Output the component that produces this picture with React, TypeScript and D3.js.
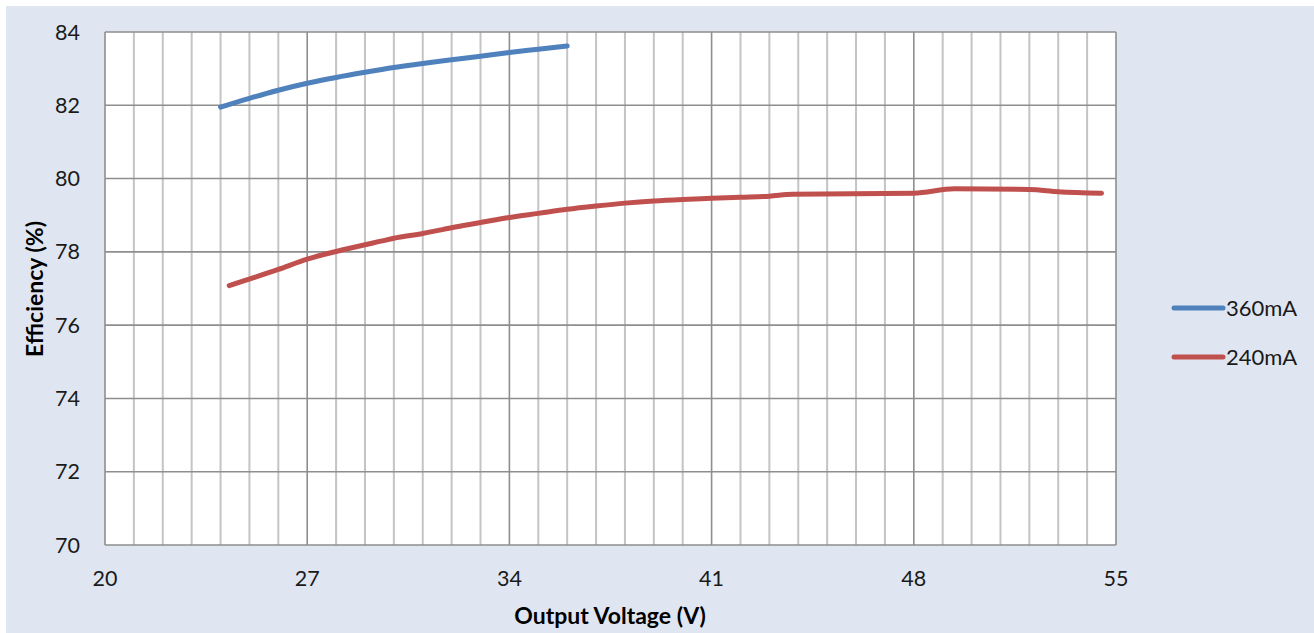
import React from "react";
import * as d3 from "d3";

const xTicks = [20, 27, 34, 41, 48, 55];
const yTicks = [70, 72, 74, 76, 78, 80, 82, 84];
const seriesNames = ["360mA", "240mA"];

const v360 = [24, 25, 26, 27, 28, 29, 30, 31, 32, 33, 34, 35, 36];
const e360 = [81.95, 82.19, 82.41, 82.6, 82.76, 82.9, 83.03, 83.14, 83.24, 83.34, 83.44, 83.53, 83.62];

const v240 = [24.3, 26, 27, 28, 29.6, 30, 31, 32, 33, 34, 35, 36, 37, 38, 39, 40, 41, 42, 43, 43.8, 48, 49.4, 52, 53, 54.5];
const e240 = [77.08, 77.52, 77.8, 78.01, 78.3, 78.37, 78.5, 78.66, 78.8, 78.94, 79.05, 79.16, 79.25, 79.33, 79.39, 79.43, 79.46, 79.49, 79.52, 79.57, 79.6, 79.72, 79.7, 79.64, 79.6];

const colors = ["#4f81bd", "#c0504d"];

export default function App() {
  const W = 1314, H = 633;
  const L = 105, R = 1116, T = 32, B = 545;
  const x = d3.scaleLinear().domain([20, 55]).range([L, R]);
  const y = d3.scaleLinear().domain([70, 84]).range([B, T]);
  const minor = d3.range(21, 55).filter((v) => (v - 20) % 7 !== 0);
  const line = d3
    .line<number>()
    .x((d: any) => x(d[0]))
    .y((d: any) => y(d[1]))
    .curve(d3.curveMonotoneX);
  const mk = (xs: number[], ys: number[]) => line(xs.map((v, i) => [v, ys[i]] as any) as any) || "";
  const paths = [mk(v360, e360), mk(v240, e240)];
  const font = "Lato, 'Open Sans', sans-serif";
  return (
    <svg width={W} height={H} style={{ position: "absolute", left: 0, top: 0 }}>
      <rect x={0} y={0} width={W} height={H} fill="#ffffff" />
      <rect x={6} y={6} width={W - 6} height={H - 6} fill="#dfe6f1" />
      <rect x={L} y={T} width={R - L} height={B - T} fill="#ffffff" />
      {minor.map((v) => (
        <line key={"m" + v} x1={x(v)} x2={x(v)} y1={T} y2={B} stroke="#c4c4c4" strokeWidth={2} />
      ))}
      {yTicks.map((v) => (
        <line key={"y" + v} x1={L} x2={R} y1={y(v)} y2={y(v)} stroke="#8e8e8e" strokeWidth={1.6} />
      ))}
      {xTicks.map((v) => (
        <line key={"x" + v} x1={x(v)} x2={x(v)} y1={T} y2={B} stroke="#8e8e8e" strokeWidth={1.6} />
      ))}
      {paths.map((p, i) => (
        <path key={"p" + i} d={p} fill="none" stroke={colors[i]} strokeWidth={5} strokeLinecap="round" strokeLinejoin="round" />
      ))}
      {yTicks.map((v) => (
        <text key={"yl" + v} x={80} y={y(v)} dy="0.35em" textAnchor="end" fontFamily={font} fontSize={21.5} fill="#1a1a1a">
          {v}
        </text>
      ))}
      {xTicks.map((v) => (
        <text key={"xl" + v} x={x(v)} y={578} dy="0.35em" textAnchor="middle" fontFamily={font} fontSize={21.5} fill="#1a1a1a">
          {v}
        </text>
      ))}
      <text x={610} y={616} dy="0.35em" textAnchor="middle" fontFamily={font} fontSize={23} fontWeight="bold" fill="#000">
        Output Voltage (V)
      </text>
      <text transform={`translate(35,289) rotate(-90)`} dy="0.35em" textAnchor="middle" fontFamily={font} fontSize={23} fontWeight="bold" fill="#000">
        Efficiency (%)
      </text>
      {seriesNames.map((n, i) => (
        <g key={"lg" + i}>
          <line x1={1174} x2={1223} y1={308 + i * 49} y2={308 + i * 49} stroke={colors[i]} strokeWidth={5} strokeLinecap="round" />
          <text x={1226} y={308 + i * 49} dy="0.35em" fontFamily={font} fontSize={22} fill="#1a1a1a">
            {n}
          </text>
        </g>
      ))}
    </svg>
  );
}
